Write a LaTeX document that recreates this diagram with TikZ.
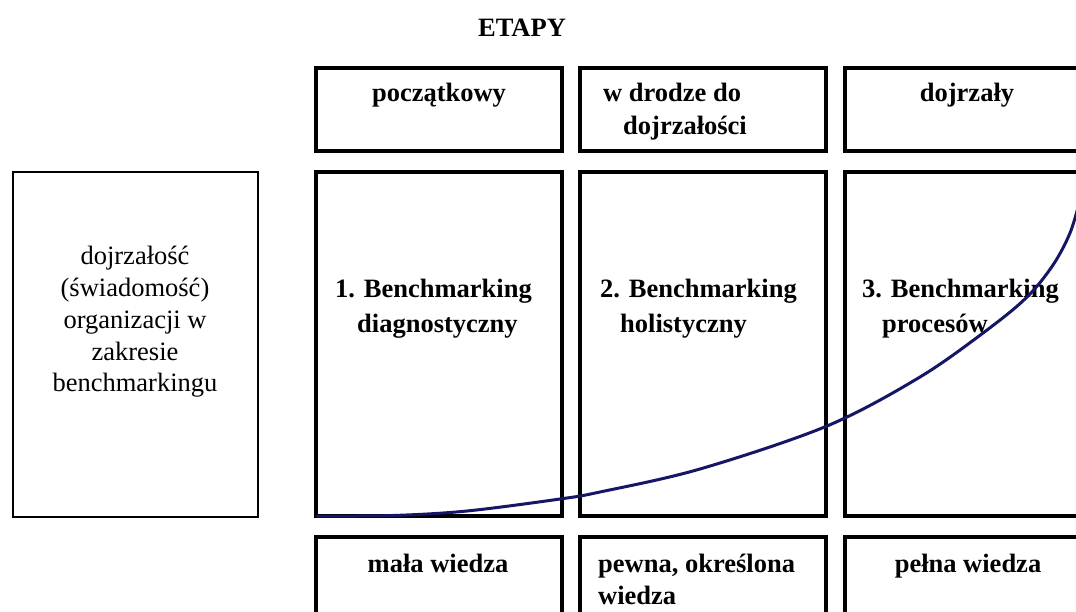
\documentclass[tikz,border=0pt]{standalone}
\usepackage{fontspec}
\setmainfont{Liberation Serif}
\definecolor{curvenavy}{RGB}{22,22,102}
\begin{document}
\begin{tikzpicture}[x=1pt,y=-1pt,
  stagebox/.style={draw, line width=3.2pt, minimum width=246pt, inner sep=0pt, outer sep=0pt},
  sidebox/.style={draw, line width=2pt, minimum width=245pt, minimum height=345pt, inner sep=0pt},
  rowtop/.style={stagebox, minimum height=83pt},
  rowmid/.style={stagebox, minimum height=344pt},
  lbl/.style={inner sep=0pt, font=\fontsize{26.5}{32}\selectfont\bfseries},
  lblr/.style={inner sep=0pt, font=\fontsize{26.5}{32}\selectfont},
  curve/.style={draw=curvenavy, line width=3pt, line cap=round}]
\useasboundingbox (0,0) rectangle (1076,612);
\clip (0,0) rectangle (1076,612);
\fill[white] (0,0) rectangle (1076,612);

% title
\node[lbl, anchor=base] (etapy) at (522,37) {ETAPY};

% top row
\node[rowtop] (t1) at (439,109.5) {};
\node[rowtop] (t2) at (703,109.5) {};
\node[rowtop] (t3) at (968,109.5) {};
\node[lbl, anchor=base] (t1a) at (439,102) {początkowy};
\node[lbl, anchor=base west] (t2a) at (603,102) {w drodze do};
\node[lbl, anchor=base west] (t2b) at (623,135) {dojrzałości};
\node[lbl, anchor=base] (t3a) at (967,102) {dojrzały};

% left box
\node[sidebox] (side) at (135.5,344.5) {};
\node[lblr, anchor=base] (s1) at (135,265) {dojrzałość};
\node[lblr, anchor=base] (s2) at (135,297) {(świadomość)};
\node[lblr, anchor=base] (s3) at (135,328) {organizacji w};
\node[lblr, anchor=base] (s4) at (135,360) {zakresie};
\node[lblr, anchor=base] (s5) at (135,391) {benchmarkingu};

% middle row
\node[rowmid] (m1) at (439,344) {};
\node[rowmid] (m2) at (703,344) {};
\node[rowmid] (m3) at (968,344) {};
\node[lbl, anchor=base west] (m1a) at (335,298) {1. Benchmarking};
\node[lbl, anchor=base west] (m1b) at (357,332) {diagnostyczny};
\node[lbl, anchor=base west] (m2a) at (600,298) {2. Benchmarking};
\node[lbl, anchor=base west] (m2b) at (620,332) {holistyczny};
\node[lbl, anchor=base west] (m3a) at (862,298) {3. Benchmarking};
\node[lbl, anchor=base west] (m3b) at (882,332) {procesów};

% bottom row
\node[rowtop] (b1) at (439,578.5) {};
\node[rowtop] (b2) at (703,578.5) {};
\node[rowtop] (b3) at (968,578.5) {};
\node[lbl, anchor=base] (b1a) at (438,572) {mała wiedza};
\node[lbl, anchor=base west] (b2a) at (598,572) {pewna, określona};
\node[lbl, anchor=base west] (b2b) at (598,604) {wiedza};
\node[lbl, anchor=base] (b3a) at (968,572) {pełna wiedza};

% maturity curve
\draw[curve] plot[smooth, tension=0.55] coordinates {
  (317,516) (393,515.5) (467,511) (560,499) (600,492) (700,469)
  (827,426) (920,377) (987,330) (1027,297) (1053,265) (1070,233) (1080,200)};
\end{tikzpicture}
\end{document}
